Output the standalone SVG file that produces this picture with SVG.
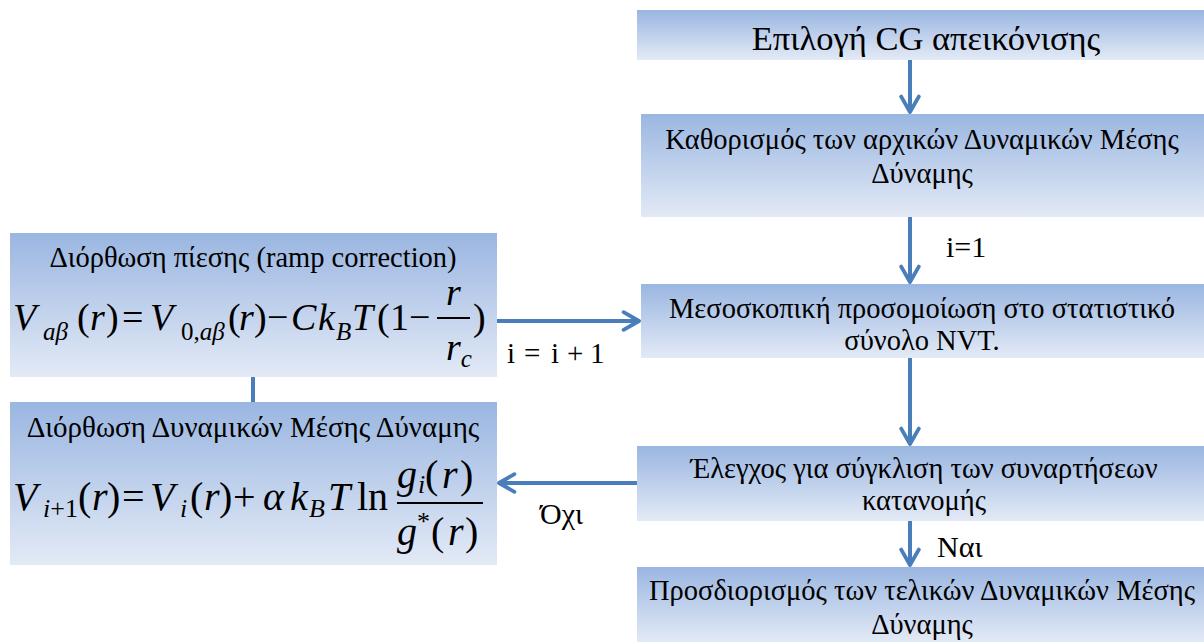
<svg xmlns="http://www.w3.org/2000/svg" width="1204" height="642" viewBox="0 0 1204 642">
<defs>
<linearGradient id="g" x1="0" y1="0" x2="0" y2="1">
<stop offset="0" stop-color="#9ab6e1"/>
<stop offset="1" stop-color="#e3eaf6"/>
</linearGradient>
<marker id="ah" viewBox="0 0 20 20" refX="17" refY="10" markerWidth="5.5" markerHeight="5.5" markerUnits="strokeWidth" orient="auto">
<path d="M3,2 L17,10 L3,18" fill="none" stroke="#4a7ebb" stroke-width="3.5" stroke-linecap="round" stroke-linejoin="round"/>
</marker>
<style>
.box{fill:url(#g);}
.t{font-family:"Liberation Serif","Times New Roman",serif;fill:#000;text-anchor:middle;font-size:28.5px;}
.m{font-family:"Liberation Serif","Times New Roman",serif;fill:#000;}
.i{font-style:italic;}
.c{stroke:#4a7ebb;stroke-width:4;fill:none;}
</style>
</defs>
<rect width="1204" height="642" fill="#ffffff"/>

<g id="connectors">
<line class="c" x1="910" y1="60" x2="910" y2="112" marker-end="url(#ah)"/>
<line class="c" x1="910" y1="217" x2="910" y2="282" marker-end="url(#ah)"/>
<line class="c" x1="910" y1="358" x2="910" y2="444" marker-end="url(#ah)"/>
<line class="c" x1="910" y1="521" x2="910" y2="565" marker-end="url(#ah)"/>
<line class="c" x1="497" y1="321" x2="639" y2="321" marker-end="url(#ah)"/>
<line class="c" x1="637" y1="483" x2="499" y2="483" marker-end="url(#ah)"/>
<line class="c" x1="253" y1="377" x2="253" y2="402"/>
<text class="m" x="946" y="257" font-size="30">i=1</text>
<text class="m" x="937" y="557" font-size="30">Ναι</text>
<text class="m" font-size="29"><tspan x="507" y="363">i</tspan><tspan x="524">=</tspan><tspan x="551">i</tspan><tspan x="567">+</tspan><tspan x="590">1</tspan></text>
<text class="m" x="540" y="524" font-size="30">Όχι</text>
</g>

<g id="n1">
<rect class="box" x="637" y="10" width="567" height="50"/>
<text class="t" x="926" y="50" style="font-size:34.5px">Επιλογή CG απεικόνισης</text>
</g>

<g id="n2">
<rect class="box" x="641" y="114" width="563" height="103"/>
<text class="t" x="922" y="149">Καθορισμός των αρχικών Δυναμικών Μέσης</text>
<text class="t" x="922" y="183">Δύναμης</text>
</g>

<g id="n3">
<rect class="box" x="641" y="284" width="563" height="74"/>
<text class="t" x="922" y="318">Μεσοσκοπική προσομοίωση στο στατιστικό</text>
<text class="t" x="922" y="350">σύνολο NVT.</text>
</g>

<g id="n4">
<rect class="box" x="637" y="446" width="567" height="75"/>
<text class="t" x="924" y="478">Έλεγχος για σύγκλιση των συναρτήσεων</text>
<text class="t" x="924" y="510">κατανομής</text>
</g>

<g id="n5">
<rect class="box" x="637" y="567" width="567" height="75"/>
<text class="t" x="922" y="600">Προσδιορισμός των τελικών Δυναμικών Μέσης</text>
<text class="t" x="922" y="634">Δύναμης</text>
</g>

<g id="nA">
<rect class="box" x="10" y="233" width="487" height="144"/>
<text class="t" x="253" y="267">Διόρθωση πίεσης (ramp correction)</text>
<text class="m" font-size="38">
<tspan class="i" x="13" y="330">V</tspan>
<tspan class="i" x="43" y="340" font-size="25">aβ</tspan>
<tspan x="77" y="330">(</tspan><tspan class="i" x="90">r</tspan><tspan x="106">)</tspan>
<tspan x="122">=</tspan>
<tspan class="i" x="150">V</tspan>
<tspan x="181" y="340" font-size="25">0,</tspan><tspan class="i" font-size="25" y="340">aβ</tspan>
<tspan x="228" y="330">(</tspan><tspan class="i" x="239">r</tspan><tspan x="254">)</tspan>
<tspan x="267">−</tspan>
<tspan class="i" x="291">C</tspan>
<tspan class="i" x="318">k</tspan>
<tspan class="i" x="336" y="340" font-size="25">B</tspan>
<tspan class="i" x="352" y="330">T</tspan>
<tspan x="377">(</tspan><tspan x="390">1</tspan>
<tspan x="409">−</tspan>
<tspan class="i" x="446" y="305">r</tspan>
<tspan class="i" x="446" y="360">r</tspan><tspan class="i" font-size="25" y="367">c</tspan>
<tspan x="473" y="330">)</tspan>
</text>
<line x1="437" y1="318" x2="470" y2="318" stroke="#000" stroke-width="2"/>
</g>

<g id="nB">
<rect class="box" x="10" y="402" width="487" height="163"/>
<text class="t" x="253" y="437" style="font-size:29px">Διόρθωση Δυναμικών Μέσης Δύναμης</text>
<text class="m" font-size="40">
<tspan class="i" x="13" y="510">V</tspan>
<tspan class="i" x="43" y="517" font-size="26">i</tspan><tspan font-size="26">+1</tspan>
<tspan x="78" y="510">(</tspan><tspan class="i" x="92">r</tspan><tspan x="107">)</tspan>
<tspan x="122">=</tspan>
<tspan class="i" x="150">V</tspan>
<tspan class="i" x="180" y="517" font-size="26">i</tspan>
<tspan x="190" y="510">(</tspan><tspan class="i" x="204">r</tspan><tspan x="219">)</tspan>
<tspan x="233">+</tspan>
<tspan class="i" x="263">α</tspan>
<tspan class="i" x="290">k</tspan>
<tspan class="i" x="309" y="517" font-size="26">B</tspan>
<tspan class="i" x="328" y="510">T</tspan>
<tspan x="357">ln</tspan>
<tspan class="i" x="397" y="488">g</tspan><tspan class="i" x="418" y="493" font-size="26">i</tspan><tspan x="425" y="488">(</tspan><tspan class="i" x="442">r</tspan><tspan x="460">)</tspan>
<tspan class="i" x="397" y="545">g</tspan><tspan x="417" y="530" font-size="26">*</tspan><tspan x="431" y="545">(</tspan><tspan class="i" x="448">r</tspan><tspan x="465">)</tspan>
</text>
<line x1="397" y1="503" x2="483" y2="503" stroke="#000" stroke-width="2"/>
</g>
</svg>
